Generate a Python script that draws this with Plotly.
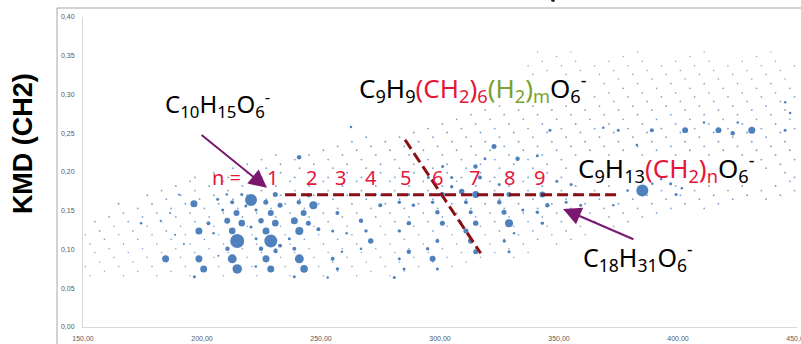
import math
import plotly.graph_objects as go

# ---- resolved ions: m/z, Kendrick mass defect (CH2 base), relative abundance (%)
mz_major = [
    184.7, 196.6, 198.7, 198.7, 200.7, 220.6, 214.8, 228.9, 212.7, 214.8,
    226.9, 228.9, 240.9, 242.9, 226.9, 240.9, 238.8, 242.7, 246.8, 230.8,
    228.9, 224.8, 226.8, 230.8, 214.5, 216.7, 210.6, 212.7, 210.7, 224.8,
    230.9, 238.8, 222.7, 236.7, 248.9, 254.9, 256.9, 240.7, 244.8, 202.7,
    196.8, 238.8, 244.7, 232.8, 232.8, 256.9, 266.8, 270.9, 268.9, 254.9,
    274.9, 282.9, 286.9, 288.8, 282.9, 286.9, 282.9, 284.9, 280.8, 294.8,
    272.8, 286.8, 258.8, 329.0, 315.0, 343.0, 329.0, 301.0, 296.9, 298.9,
    301.0, 298.9, 296.9, 298.9, 312.9, 315.0, 310.9, 315.0, 312.9, 310.9,
    324.9, 326.9, 327.0, 329.0, 334.8, 345.1, 340.9, 343.0, 353.0, 357.0,
    309.1, 304.9, 316.8, 385.0, 399.2, 396.9, 403.0, 417.0, 431.0, 423.0,
    389.0, 374.9, 322.7, 332.6, 314.9, 301.1, 318.9, 346.2, 340.9, 262.6,
    240.8, 206.6, 212.7, 204.8, 218.4, 222.7, 220.6, 210.4, 216.7, 208.7,
    206.9, 222.6, 445.0, 260.8, 258.8, 252.8, 266.8, 331.1, 359.1, 355.1,
    349.1, 324.9, 304.9, 295.1, 372.8, 378.8, 392.9, 401.6, 389.2, 425.1,
    410.9, 368.6, 382.7, 447.1, 445.0, 174.4, 192.4, 188.7, 182.6, 186.6,
    190.3,
]
kmd_major = [
    0.088, 0.159, 0.124, 0.088, 0.075, 0.164, 0.111, 0.111, 0.088, 0.075,
    0.088, 0.075, 0.088, 0.075, 0.124, 0.124, 0.137, 0.147, 0.157, 0.134,
    0.147, 0.137, 0.161, 0.171, 0.147, 0.134, 0.137, 0.124, 0.101, 0.101,
    0.098, 0.101, 0.114, 0.114, 0.126, 0.088, 0.075, 0.161, 0.170, 0.134,
    0.065, 0.065, 0.134, 0.157, 0.105, 0.147, 0.137, 0.111, 0.124, 0.124,
    0.157, 0.161, 0.134, 0.157, 0.124, 0.097, 0.088, 0.075, 0.064, 0.101,
    0.171, 0.171, 0.171, 0.134, 0.171, 0.171, 0.171, 0.171, 0.088, 0.148,
    0.134, 0.111, 0.161, 0.075, 0.111, 0.097, 0.124, 0.134, 0.148, 0.161,
    0.161, 0.148, 0.111, 0.097, 0.151, 0.157, 0.148, 0.134, 0.161, 0.171,
    0.175, 0.181, 0.193, 0.176, 0.171, 0.185, 0.254, 0.254, 0.254, 0.250,
    0.254, 0.254, 0.233, 0.217, 0.207, 0.207, 0.217, 0.254, 0.221, 0.258,
    0.219, 0.165, 0.161, 0.121, 0.156, 0.151, 0.129, 0.171, 0.171, 0.151,
    0.092, 0.078, 0.254, 0.121, 0.097, 0.064, 0.101, 0.121, 0.157, 0.184,
    0.188, 0.184, 0.193, 0.193, 0.157, 0.176, 0.191, 0.179, 0.185, 0.264,
    0.264, 0.257, 0.235, 0.276, 0.290, 0.134, 0.107, 0.119, 0.137, 0.147,
    0.171,
]
abund_major = [
    25, 25, 25, 25, 25, 73, 100, 86, 41, 46,
    25, 25, 41, 29, 25, 33, 25, 18, 33, 22,
    18, 15, 13, 13, 18, 22, 18, 22, 10, 10,
    10, 8, 4.6, 4.6, 8, 8, 6, 10, 8, 8,
    4.6, 4.6, 13, 13, 8, 8, 10, 15, 6, 4.6,
    8, 6, 10, 6, 6, 10, 4.6, 4.6, 4.6, 6,
    4.6, 4.6, 4.6, 33, 25, 18, 13, 13, 18, 10,
    13, 8, 6, 4.6, 15, 13, 13, 15, 8, 8,
    10, 13, 6, 4.6, 4.6, 10, 6, 6, 4.6, 6,
    15, 6, 8, 73, 4.6, 4.6, 18, 18, 25, 10,
    8, 4.6, 13, 10, 10, 4.6, 4.6, 4.6, 4.6, 3.2,
    10, 4.6, 8, 3.2, 4.6, 4.6, 4.6, 3.2, 4.6, 4.6,
    2, 3.2, 4.6, 3.2, 3.2, 3.2, 3.2, 3.2, 4.6, 4.6,
    4.6, 4.6, 4.6, 4.6, 3.2, 3.2, 3.2, 3.2, 3.2, 3.2,
    3.2, 3.2, 3.2, 3.2, 3.2, 3.2, 2, 2, 2, 2,
    2,
]

# ---- weak ions, one list of m/z per KMD row
minor_kmd_rows = [
    0.066, 0.078, 0.090, 0.101, 0.113, 0.124, 0.136, 0.147, 0.159,
    0.170, 0.182, 0.193, 0.205, 0.216, 0.228, 0.239, 0.251, 0.262,
    0.274, 0.285, 0.297, 0.308, 0.320, 0.331, 0.343, 0.355,
]
minor_abund_rows = [
    1.2, 1.3, 1.3, 1.4, 1.4, 1.5, 1.6, 1.7, 1.8,
    1.8, 1.8, 1.8, 1.8, 1.8, 1.9, 1.9, 1.9, 1.8,
    1.7, 1.6, 1.5, 1.5, 1.4, 1.3, 1.2, 1.0,
]
minor_mz_rows = [
    [153, 167, 181, 195, 209, 223, 237, 251, 265, 279],
    [151, 165, 179, 193, 207, 221, 235, 249, 263, 277, 291, 305],
    [163, 177, 191, 205, 219, 233, 247, 261, 275, 289, 303, 317, 331],
    [161, 175, 189, 203, 217, 231, 245, 259, 273, 287, 301, 315, 329],
    [159, 173, 187, 201, 215, 229, 243, 257, 271, 285, 299, 313, 327, 341, 355],
    [157, 171, 185, 199, 213, 227, 241, 255, 269, 283, 297, 311, 325, 339, 353],
    [155, 169, 183, 197, 211, 225, 239, 253, 267, 281, 295, 309, 323, 337, 351, 365, 379],
    [167, 181, 195, 209, 223, 237, 251, 265, 279, 293, 307, 321, 335, 349, 363, 377, 391],
    [165, 179, 193, 207, 221, 235, 249, 263, 277, 291, 305, 319, 333, 347, 361, 375, 389, 403, 417],
    [177, 191, 205, 219, 233, 247, 261, 275, 289, 303, 317, 331, 345, 359, 373, 387, 401, 415, 429, 443],
    [189, 203, 217, 231, 245, 259, 273, 287, 301, 315, 329, 343, 357, 371, 385, 399, 413, 427, 441],
    [197, 211, 225, 239, 253, 267, 281, 295, 309, 323, 337, 351, 449],
    [213, 227, 241, 255, 269, 283, 297, 311, 325, 339, 353, 437],
    [225, 239, 253, 267, 281, 295, 309, 323, 337, 351, 435, 449],
    [251, 265, 279, 293, 307, 321, 335, 349, 363, 377, 391, 405, 419, 433, 447],
    [263, 277, 291, 305, 319, 333, 347, 361, 375, 389, 403, 417, 431, 445],
    [289, 303, 317, 331, 345, 359, 373, 387, 401, 415, 429, 443],
    [301, 315, 329, 343, 357, 371, 385, 399, 413, 427, 441],
    [313, 327, 341, 355, 369, 383, 397, 411, 425, 439],
    [325, 339, 353, 367, 381, 395, 409, 423, 437],
    [365, 379, 393, 407, 421, 435, 449],
    [377, 391, 405, 419, 433, 447],
    [375, 389, 403, 417, 431, 445],
    [345, 359, 373, 387, 401, 415, 429, 443],
    [343, 357, 371, 385, 399, 413, 427, 441],
    [341, 355, 383, 411, 439],
]

# second family of weak-ion rows (other oxygen numbers), interleaved in KMD
minor_kmd_rows_b = [
    0.072, 0.084, 0.096, 0.107, 0.119, 0.130, 0.142, 0.153, 0.165,
    0.176, 0.188, 0.199, 0.210, 0.222, 0.233, 0.245, 0.256, 0.268,
    0.280, 0.291, 0.302, 0.314, 0.326, 0.337, 0.349,
]
minor_abund_rows_b = [
    1.1, 1.2, 1.2, 1.3, 1.3, 1.4, 1.5, 1.6, 1.7,
    1.7, 1.7, 1.7, 1.7, 1.7, 1.8, 1.8, 1.8, 1.7,
    1.6, 1.5, 1.4, 1.4, 1.3, 1.2, 1.0,
]
minor_mz_rows_b = [
    [159, 173, 187, 201, 215, 229, 243, 257, 271, 285],
    [157, 171, 185, 199, 213, 227, 241, 255, 269, 283, 297, 311],
    [155, 169, 183, 197, 211, 225, 239, 253, 267, 281, 295, 309, 323, 337],
    [153, 167, 181, 195, 209, 223, 237, 251, 265, 279, 293, 307, 321, 335, 349],
    [151, 165, 179, 193, 207, 221, 235, 249, 263, 277, 291, 305, 319, 333, 347, 361],
    [163, 177, 191, 205, 219, 233, 247, 261, 275, 289, 303, 317, 331, 345, 359, 373],
    [161, 175, 189, 203, 217, 231, 245, 259, 273, 287, 301, 315, 329, 343, 357, 371, 385],
    [173, 187, 201, 215, 229, 243, 257, 271, 285, 299, 313, 327, 341, 355, 369, 383, 397, 411],
    [185, 199, 213, 227, 241, 255, 269, 283, 297, 311, 325, 339, 353, 367, 381, 395, 409, 423, 437],
    [183, 197, 211, 225, 239, 253, 267, 281, 295, 309, 323, 337, 351, 365, 379, 393, 407, 421, 435, 449],
    [195, 209, 223, 237, 251, 265, 279, 293, 307, 321, 335, 349, 447],
    [205, 219, 233, 247, 261, 275, 289, 303, 317, 331, 345, 445],
    [219, 233, 247, 261, 275, 289, 303, 317, 331, 345, 443],
    [231, 245, 259, 273, 287, 301, 315, 329, 343, 357, 371, 385, 399, 413, 427, 441],
    [257, 271, 285, 299, 313, 327, 341, 355, 369, 383, 397, 411, 425, 439],
    [269, 283, 297, 311, 325, 339, 353, 367, 381, 395, 409, 423, 437],
    [295, 309, 323, 337, 351, 365, 379, 393, 407, 421, 435, 449],
    [307, 321, 335, 349, 363, 377, 391, 405, 419, 433, 447],
    [319, 333, 347, 361, 375, 389, 403, 417, 431, 445],
    [373, 387, 401, 415, 429, 443],
    [371, 385, 399, 413, 427, 441],
    [369, 383, 397, 411, 425, 439],
    [339, 353, 367, 381, 395, 409, 423, 437],
    [337, 351, 365, 379, 393, 407, 421, 435, 449],
    [349, 377, 405, 433],
]

# ---- homologous series C9H13(CH2)nO6- : n index labels
n_labels = ["1", "2", "3", "4", "5", "6", "7", "8", "9"]
n_label_mz = [229.8, 245.8, 258.4, 271.0, 285.7, 299.0, 314.3, 329.0, 341.6]
n_label_kmd = 0.1925

# guide lines: CH2 series (horizontal) and H2 series (diagonal)
ch2_line_mz = [234.9, 374.4]
ch2_line_kmd = [0.1705, 0.1705]
h2_line_mz = [285.3, 317.1]
h2_line_kmd = [0.2416, 0.0952]

BLUE = "#4f81bd"
RED = "#e4163a"
GREEN = "#77a22d"
DARKRED = "#8b0e14"
PURPLE = "#7a1870"


def bubble_diameter(abundance):
    # bubble area proportional to abundance
    return 1.4 * math.sqrt(abundance)


minor_x, minor_y, minor_s = [], [], []
for kmds, rows, abunds in ((minor_kmd_rows, minor_mz_rows, minor_abund_rows),
                           (minor_kmd_rows_b, minor_mz_rows_b, minor_abund_rows_b)):
    for k, masses, a in zip(kmds, rows, abunds):
        for m in masses:
            minor_x.append(m)
            minor_y.append(k)
            minor_s.append(bubble_diameter(a))

order = sorted(range(len(mz_major)), key=lambda i: -abund_major[i])

fig = go.Figure()
fig.add_trace(go.Scatter(
    x=minor_x, y=minor_y, mode="markers",
    marker=dict(size=minor_s, color=BLUE, opacity=0.72, line=dict(width=0)),
    hoverinfo="skip",
))
fig.add_trace(go.Scatter(
    x=[mz_major[i] for i in order], y=[kmd_major[i] for i in order], mode="markers",
    marker=dict(size=[bubble_diameter(abund_major[i]) for i in order], color=BLUE,
                opacity=1, line=dict(width=0)),
))

tick_font = dict(family="Liberation Sans", size=7, color="#595959")
fig.update_layout(
    width=801, height=344,
    margin=dict(l=83, r=4, t=17, b=17, autoexpand=False),
    paper_bgcolor="white", plot_bgcolor="white",
    showlegend=False,
    separators=", ",
    xaxis=dict(range=[150, 450], tickvals=[150, 200, 250, 300, 350, 400, 450],
               tickformat=".2f", showgrid=False, zeroline=False, automargin=False,
               showline=True, linecolor="#d9d9d9", linewidth=1, ticks="",
               tickfont=tick_font, ticklabelstandoff=5, ticklabeloverflow="allow"),
    yaxis=dict(range=[0, 0.40], tickvals=[0, 0.05, 0.10, 0.15, 0.20, 0.25, 0.30, 0.35, 0.40],
               tickformat=".2f", showgrid=False, zeroline=False, automargin=False,
               showline=True, linecolor="#d9d9d9", linewidth=1, ticks="",
               tickfont=tick_font, ticklabelstandoff=6),
)

shapes = [
    # outer frame
    dict(type="line", xref="paper", yref="paper", x0=-0.0364, x1=1.02, y0=1.029, y1=1.029,
         line=dict(color="#a6a6a6", width=1)),
    dict(type="line", xref="paper", yref="paper", x0=-0.0364, x1=-0.0364, y0=1.029, y1=-0.1,
         line=dict(color="#a6a6a6", width=1)),
    dict(type="circle", xref="paper", yref="paper", x0=0.6555, x1=0.661, y0=1.048, y1=1.062,
         fillcolor="#222222", line=dict(width=0)),
    # series guide lines
    dict(type="line", xref="x", yref="y", x0=ch2_line_mz[0], x1=ch2_line_mz[1],
         y0=ch2_line_kmd[0], y1=ch2_line_kmd[1],
         line=dict(color=DARKRED, width=3, dash="11px,5px")),
    dict(type="line", xref="x", yref="y", x0=h2_line_mz[0], x1=h2_line_mz[1],
         y0=h2_line_kmd[0], y1=h2_line_kmd[1],
         line=dict(color=DARKRED, width=3, dash="11px,5px")),
]
fig.update_layout(shapes=shapes)

FORM = "Noto Sans"
ann = []


def formula(text, x, y, size):
    ann.append(dict(text=text, x=x, y=y, xref="x", yref="y", showarrow=False,
                    font=dict(family=FORM, size=size, color="black"),
                    xanchor="center", yanchor="middle"))


formula("C<sub>10</sub>H<sub>15</sub>O<sub>6</sub><sup>-</sup>", 206.5, 0.288, 24)
formula("C<sub>9</sub>H<sub>9</sub><span style='color:%s'>(CH<sub>2</sub>)<sub>6</sub></span>"
        "<span style='color:%s'>(H<sub>2</sub>)<sub>m</sub></span>O<sub>6</sub><sup>-</sup>"
        % (RED, GREEN), 313.9, 0.309, 26)
formula("C<sub>9</sub>H<sub>13</sub><span style='color:%s'>(CH<sub>2</sub>)<sub>n</sub></span>"
        "O<sub>6</sub><sup>-</sup>" % RED, 395.0, 0.205, 26)
formula("C<sub>18</sub>H<sub>31</sub>O<sub>6</sub><sup>-</sup>", 383.2, 0.090, 25)

ann.append(dict(text="n =", x=210.5, y=n_label_kmd, xref="x", yref="y", showarrow=False,
                font=dict(family=FORM, size=20, color=RED)))
for lab, m in zip(n_labels, n_label_mz):
    ann.append(dict(text=lab, x=m, y=n_label_kmd, xref="x", yref="y", showarrow=False,
                    font=dict(family=FORM, size=20, color=RED)))

# arrows to the two highlighted ions
ann.append(dict(text="", x=227.3, y=0.1796, ax=199.2, ay=0.2494, axref="x", ayref="y",
                xref="x", yref="y", showarrow=True, arrowhead=2, arrowsize=1.8,
                arrowwidth=2, arrowcolor=PURPLE, standoff=0))
ann.append(dict(text="", x=351.7, y=0.1524, ax=381.9, ay=0.1124, axref="x", ayref="y",
                xref="x", yref="y", showarrow=True, arrowhead=2, arrowsize=1.8,
                arrowwidth=2, arrowcolor=PURPLE, standoff=0))

# y-axis title
ann.append(dict(text="<b>KMD (CH2)</b>", x=-0.084, y=0.590, xref="paper", yref="paper",
                showarrow=False, textangle=-90,
                font=dict(family="Liberation Sans", size=27, color="black"),
                xanchor="center", yanchor="middle"))

fig.update_layout(annotations=ann)
fig.write_html("out.html")
